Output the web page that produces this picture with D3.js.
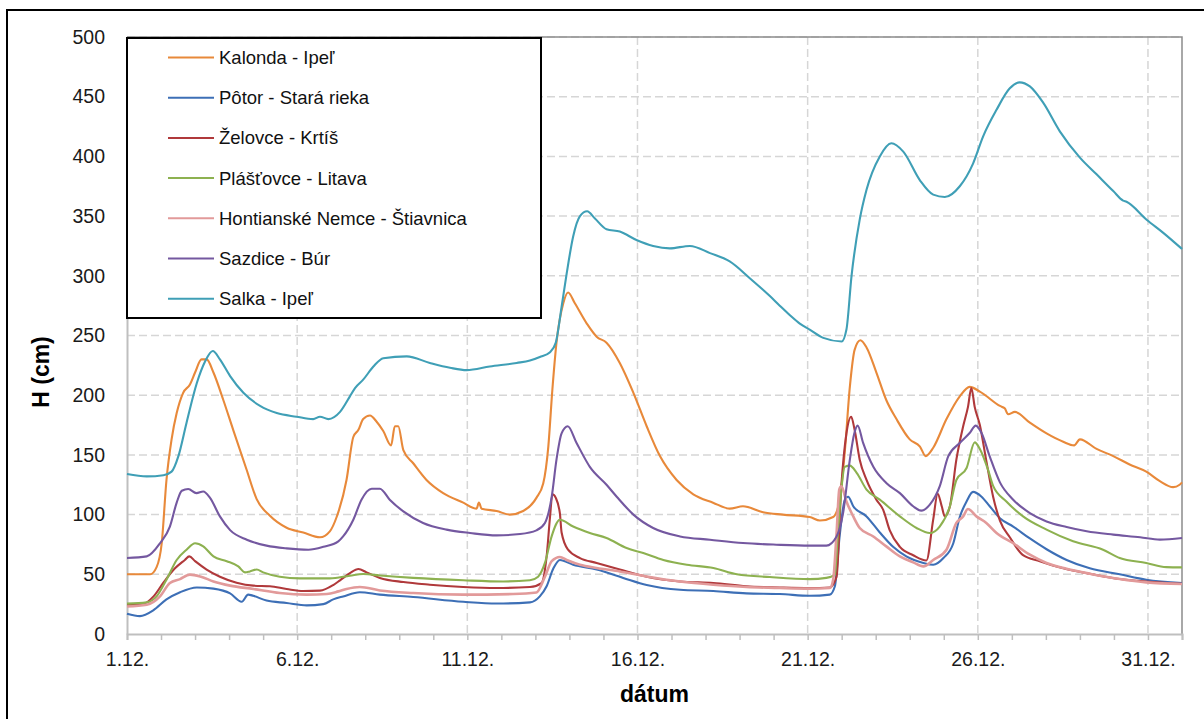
<!DOCTYPE html>
<html><head><meta charset="utf-8">
<script src="https://cdn.jsdelivr.net/npm/d3@7"></script>
<style>body{margin:0;background:#fff}svg{display:block}text{font-family:"Liberation Sans",Arial,sans-serif}</style>
</head><body><svg id="c" width="1204" height="719"></svg>
<script>
// ---- data: [day offset from 1.12. 00:00, water level H (cm)] ----
const seriesNames = ["Kalonda - Ipeľ","Pôtor - Stará rieka","Želovce - Krtíš","Plášťovce - Litava","Hontianské Nemce - Štiavnica","Sazdice - Búr","Salka - Ipeľ"];
const seriesColors = ["#E8893A","#3D6FB6","#B0393B","#8DB150","#E29A9A","#7458A0","#3F9FB6"];
const xTickDays = [0,5,10,15,20,25,30];
const xTickLabels = ["1.12.","6.12.","11.12.","16.12.","21.12.","26.12.","31.12."];
const yTicks = [0,50,100,150,200,250,300,350,400,450,500];

const kalonda = [[0,50],[0.68,50],[0.87,56],[1.02,76],[1.16,129],[1.31,163],[1.46,185],[1.65,202],[1.85,209],[2.0,219],[2.19,230],[2.34,230],[2.54,219],[2.83,196],[3.12,171],[3.51,138],[3.81,113],[4.2,99],[4.69,89],[5.18,85],[5.67,81],[5.96,86],[6.16,98],[6.45,129],[6.65,165],[6.8,171],[6.94,180],[7.14,183],[7.33,178],[7.53,170],[7.76,158],[7.87,174],[7.97,174],[8.12,154],[8.41,143],[8.8,129],[9.29,118],[9.88,110],[10.27,105],[10.34,110],[10.42,105],[10.86,103],[11.25,100],[11.64,103],[12.03,114],[12.23,126],[12.38,157],[12.5,205],[12.62,244],[12.82,277],[12.96,286],[13.16,277],[13.51,260],[13.8,249],[14.09,244],[14.48,227],[14.88,202],[15.27,174],[15.66,149],[16.15,129],[16.64,117],[17.22,110],[17.71,105],[18.1,107],[18.69,102],[19.27,100],[20.06,98],[20.36,95],[20.75,98],[20.94,112],[21.09,152],[21.24,207],[21.38,238],[21.55,246],[21.73,240],[22.02,219],[22.31,196],[22.61,180],[23.0,163],[23.3,157],[23.47,149],[23.69,156],[24.08,180],[24.47,199],[24.76,207],[25.06,203],[25.65,191],[25.79,189],[25.89,184],[26.09,186],[26.53,177],[27.02,168],[27.51,161],[27.83,158],[28.0,163],[28.49,155],[28.98,149],[29.46,142],[29.95,136],[30.35,128],[30.74,123],[30.93,125],[31,127]];
const potor = [[0,17],[0.38,15],[0.78,20],[1.16,29],[1.56,35],[2.05,39],[2.54,38],[3.03,34],[3.37,27],[3.56,33],[3.71,32],[4.1,28],[4.69,26],[5.28,24],[5.77,25],[6.06,29],[6.35,31.5],[6.84,35],[7.43,33],[8.41,31],[9.88,27],[10.86,25.5],[11.84,26.5],[12.13,31.5],[12.33,40],[12.53,55],[12.72,62],[13.11,58],[13.8,54],[14.58,47],[15.27,41],[16.25,37],[17.23,36],[18.2,34],[19.18,33.5],[20.06,32],[20.65,33],[20.8,40],[20.94,82],[21.09,112],[21.19,115],[21.34,107],[21.73,98.5],[22.12,85],[22.51,73],[22.9,65],[23.4,59.5],[23.69,58],[23.99,63.6],[24.28,76],[24.47,98],[24.67,111],[24.86,119],[25.11,115],[25.35,107],[25.65,97],[26.04,90],[26.53,80],[27.02,71],[27.61,62],[28.29,55],[29.17,50],[29.95,45.5],[31,42.7]];
const zelovce = [[0,24.5],[0.49,25.4],[0.78,31.5],[1.07,43],[1.41,55],[1.7,62],[1.83,65],[2.0,61],[2.34,54],[2.73,48],[3.22,43],[3.71,40.5],[4.2,40],[4.69,37.7],[5.18,36],[5.67,36.3],[6.06,41],[6.26,45],[6.55,51],[6.8,54.4],[7.04,51.6],[7.43,47],[8.12,43.5],[8.9,41.3],[9.88,39.4],[10.86,38.5],[11.84,39.4],[12.18,42.7],[12.33,65],[12.43,98],[12.5,117],[12.6,114],[12.72,101],[12.77,85],[12.96,70.6],[13.31,63.6],[13.8,59.5],[14.48,54],[15.27,48],[16.25,44],[17.23,42.7],[18.2,40],[19.18,39],[20.06,38.5],[20.65,39],[20.85,48],[20.99,124],[21.14,168],[21.28,182],[21.38,171],[21.53,146],[21.73,129],[22.02,112.5],[22.22,104],[22.41,87],[22.71,73],[23.1,66],[23.49,61.6],[23.69,96],[23.82,117.5],[23.94,107],[24.03,98.5],[24.18,107],[24.37,146],[24.57,174],[24.71,190],[24.81,206],[24.91,190],[25.06,175],[25.25,145],[25.45,115],[25.65,95],[25.94,81],[26.33,66],[26.82,61],[27.51,55],[28.29,50.5],[29.17,46],[29.95,44],[31,42]];
const plastovce = [[0,25.4],[0.58,26.5],[0.87,31.5],[1.16,45.5],[1.46,62],[1.75,70.6],[2.0,76],[2.24,73.4],[2.54,65],[2.93,61],[3.27,56.6],[3.47,51.6],[3.61,52.4],[3.81,54],[4.0,51.6],[4.49,48],[5.08,46.6],[5.96,46.6],[6.55,48.8],[6.94,50.2],[7.43,49],[8.41,47],[9.88,45],[11.05,44],[11.84,45],[12.08,48],[12.28,59.5],[12.48,82],[12.72,95.7],[13.11,90],[13.6,84.6],[14.09,80.4],[14.68,72],[15.17,67.8],[15.76,62],[16.45,58],[17.23,55.3],[17.92,50],[18.89,47.7],[20.06,46],[20.55,47],[20.8,49.7],[20.89,84.6],[20.99,121],[21.09,140],[21.24,141],[21.44,135],[21.73,121],[22.12,112.5],[22.71,98.5],[23.2,88.8],[23.59,84.6],[23.88,90],[24.18,107],[24.37,129],[24.67,139],[24.91,160.5],[25.06,155],[25.3,137.6],[25.45,124],[25.84,111],[26.33,98.5],[27.02,87.4],[27.8,77.6],[28.68,70.6],[29.17,63.6],[29.95,59.5],[30.54,56],[31,55.8]];
const hontianske = [[0,23],[0.58,24.5],[0.97,31.5],[1.26,42.7],[1.56,46],[1.85,49.7],[2.15,48.2],[2.54,44],[3.03,40.5],[3.71,37.7],[4.49,34.3],[5.28,33],[5.87,33.5],[6.21,35.7],[6.45,37.7],[6.84,39.4],[7.43,36.5],[8.41,34.3],[9.88,33],[11.35,33.5],[12.03,34.8],[12.28,48],[12.48,61],[12.72,64.5],[12.92,62],[13.31,58],[13.8,55.3],[14.48,52.4],[15.27,48.2],[16.25,44],[17.23,41.3],[18.2,39.4],[19.18,38.5],[20.06,38],[20.65,38.5],[20.75,45.5],[20.85,84.6],[20.93,121],[20.99,123.6],[21.14,111],[21.34,98.5],[21.53,88.8],[21.93,81.7],[22.31,73.4],[22.71,65],[23.1,60],[23.4,56.6],[23.69,62],[24.08,70.6],[24.37,93],[24.57,98.5],[24.71,104.7],[24.96,98.5],[25.25,93],[25.55,84.6],[26.04,76],[26.53,66.4],[27.02,59.5],[27.61,54.7],[28.29,50.5],[29.17,46],[29.95,43.2],[31,41.9]];
const sazdice = [[0,63.6],[0.58,65],[0.97,76],[1.26,90],[1.46,110],[1.61,120],[1.8,121.4],[2.04,118],[2.24,119.4],[2.44,114],[2.73,98.5],[3.03,87],[3.52,79],[4.1,74],[4.69,71.7],[5.33,70.6],[5.77,73],[6.21,77.6],[6.35,81.7],[6.65,95.7],[6.89,112.5],[7.19,121.7],[7.43,121.7],[7.72,112.5],[8.12,102.7],[8.7,93],[9.39,87.4],[10.08,84.6],[10.86,82.6],[11.55,83.7],[12.03,86.8],[12.28,93],[12.48,115],[12.62,146],[12.77,168],[12.95,174],[13.21,160],[13.6,140],[14.09,125],[14.39,115],[14.88,100],[15.46,88.8],[16.25,81.7],[17.13,79],[18.1,76.2],[19.08,74.8],[20.06,74],[20.55,74],[20.85,81.7],[21.04,101],[21.24,146],[21.37,168],[21.47,174.5],[21.63,160],[21.93,140],[22.31,126.5],[22.71,118],[23.1,107],[23.34,103.3],[23.59,108.3],[23.88,123.6],[24.13,148.7],[24.47,160],[24.76,168.3],[24.94,174.5],[25.11,168.3],[25.35,148.7],[25.65,127],[26.04,112.5],[26.53,101.3],[27.02,94.3],[27.61,89.6],[28.2,86],[28.98,83.2],[29.77,81],[30.35,79],[31,80.4]];
const salka = [[0,134],[0.58,132],[1.07,133],[1.31,136],[1.51,149],[1.75,177],[2.05,210],[2.29,228],[2.52,237],[2.73,230],[3.03,216],[3.42,202],[3.91,191],[4.4,185],[4.98,182],[5.47,180],[5.67,182],[5.92,180],[6.26,186],[6.55,199],[6.7,206],[6.94,213],[7.24,224],[7.53,231],[8.22,232.5],[8.9,227],[9.49,223],[9.98,221],[10.66,224],[11.45,227],[11.84,229],[12.13,232],[12.43,236],[12.6,244],[12.77,274],[12.92,302],[13.11,333],[13.31,350],[13.52,354],[13.75,348],[14.09,339],[14.48,337],[14.97,330],[15.46,325],[15.95,323],[16.54,325],[17.13,319],[17.71,312],[18.3,298],[18.89,283],[19.18,275],[19.48,267],[19.77,260],[20.06,255],[20.46,248],[21.0,245],[21.14,255],[21.29,300],[21.53,347],[21.73,372],[22.12,400],[22.46,411],[22.81,404],[23.3,380],[23.69,368],[24.03,366],[24.47,375],[24.86,394],[25.16,417],[25.55,439],[25.94,457],[26.23,462],[26.53,458.6],[26.92,445],[27.41,421],[28.0,399],[28.49,385],[28.98,371],[29.27,363],[29.37,362],[29.96,347],[30.45,336],[31,322.5]];
const seriesData = [kalonda, potor, zelovce, plastovce, hontianske, sazdice, salka];

// ---- drawing ----
const svg = d3.select("#c");
const L = 127, R = 1182, T = 37, B = 634;
const x = d3.scaleLinear().domain([0,31]).range([L,R]);
const y = d3.scaleLinear().domain([0,500]).range([B,T]);

svg.append("rect").attr("width",1204).attr("height",719).attr("fill","#fff");
// outer chart-area border
svg.append("rect").attr("x",7).attr("y",10).attr("width",1210).attr("height",730)
  .attr("fill","none").attr("stroke","#000").attr("stroke-width",2);

// gridlines
const grid = svg.append("g").attr("stroke","#d6d6d6").attr("stroke-width",1.5).attr("stroke-dasharray","8,4");
yTicks.filter(v=>v>0).forEach(v=>grid.append("line").attr("x1",L).attr("x2",R).attr("y1",y(v)).attr("y2",y(v)));
xTickDays.filter(d=>d>0).forEach(d=>grid.append("line").attr("x1",x(d)).attr("x2",x(d)).attr("y1",T).attr("y2",B));

// plot border top/right
svg.append("path").attr("d",`M${L},${T}H${R}V${B}`).attr("fill","none").attr("stroke","#8c8c8c").attr("stroke-width",1.5);

// x axis
const xAxis = d3.axisBottom(x).tickValues(d3.range(0,32)).tickSize(6)
  .tickFormat(d => { const i = xTickDays.indexOf(d); return i>=0 ? xTickLabels[i] : ""; });
const gx = svg.append("g").attr("transform",`translate(0,${B})`).call(xAxis);
gx.select(".domain").attr("stroke","#bfbfbf").attr("stroke-width",2);
gx.selectAll(".tick line").attr("stroke","#bfbfbf").attr("stroke-width",1.5);
gx.selectAll(".tick text").attr("font-size",19.5).attr("fill","#1a1a1a").attr("dy","1.2em")
  .attr("font-family","'Liberation Sans',Arial,sans-serif");

// y axis
const yAxis = d3.axisLeft(y).tickValues(yTicks).tickSize(0).tickPadding(22);
const gy = svg.append("g").attr("transform",`translate(${L},0)`).call(yAxis);
gy.select(".domain").attr("stroke","#bfbfbf").attr("stroke-width",2);
gy.selectAll(".tick text").attr("font-size",19.5).attr("fill","#1a1a1a")
  .attr("font-family","'Liberation Sans',Arial,sans-serif");

// series lines
const line = d3.line().x(d=>x(d[0])).y(d=>y(d[1])).curve(d3.curveMonotoneX);
seriesData.forEach((s,i)=>{
  svg.append("path").datum(s).attr("d",line).attr("fill","none")
    .attr("stroke",seriesColors[i]).attr("stroke-width", i===4?2.6:2.1)
    .attr("stroke-linejoin","round");
});

// axis titles
svg.append("text").attr("x",(L+R)/2).attr("y",702).attr("text-anchor","middle")
  .attr("font-size",23).attr("font-weight","bold").attr("fill","#000").text("dátum");
svg.append("text").attr("transform","translate(49,372) rotate(-90)").attr("text-anchor","middle")
  .attr("font-size",23).attr("font-weight","bold").attr("fill","#000").text("H (cm)");

// legend
const lg = svg.append("g");
lg.append("rect").attr("x",127).attr("y",38).attr("width",414).attr("height",280)
  .attr("fill","#fff").attr("stroke","#000").attr("stroke-width",2);
seriesNames.forEach((n,i)=>{
  const cy = 57.5 + i*40.2;
  lg.append("line").attr("x1",168).attr("x2",214).attr("y1",cy).attr("y2",cy)
    .attr("stroke",seriesColors[i]).attr("stroke-width",2);
  lg.append("text").attr("x",219).attr("y",cy).attr("dy","0.35em")
    .attr("font-size",18.5).attr("fill","#111").text(n);
});
</script></body></html>
